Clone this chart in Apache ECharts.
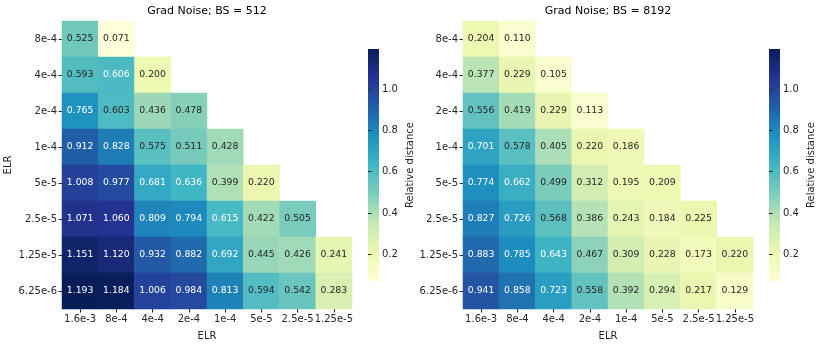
<!DOCTYPE html>
<html>
<head>
<meta charset="utf-8">
<script src="https://cdn.jsdelivr.net/npm/echarts@6/dist/echarts.min.js"></script>
<style>
  html, body { margin: 0; padding: 0; background: #fff; }
  #chart { width: 822px; height: 346px; }
</style>
</head>
<body>
<div id="chart"></div>
<script>
// ELR on both axes, columns left->right, rows top->bottom
var xLabels = ['1.6e-3', '8e-4', '4e-4', '2e-4', '1e-4', '5e-5', '2.5e-5', '1.25e-5'];
var yLabels = ['8e-4', '4e-4', '2e-4', '1e-4', '5e-5', '2.5e-5', '1.25e-5', '6.25e-6'];

// lower-triangle rows (row i has i+2 cells, last row has 8)
var bs512 = [
    [0.525, 0.071],
    [0.593, 0.606, 0.200],
    [0.765, 0.603, 0.436, 0.478],
    [0.912, 0.828, 0.575, 0.511, 0.428],
    [1.008, 0.977, 0.681, 0.636, 0.399, 0.220],
    [1.071, 1.060, 0.809, 0.794, 0.615, 0.422, 0.505],
    [1.151, 1.120, 0.932, 0.882, 0.692, 0.445, 0.426, 0.241],
    [1.193, 1.184, 1.006, 0.984, 0.813, 0.594, 0.542, 0.283]
];
var bs8192 = [
    [0.204, 0.110],
    [0.377, 0.229, 0.105],
    [0.556, 0.419, 0.229, 0.113],
    [0.701, 0.578, 0.405, 0.220, 0.186],
    [0.774, 0.662, 0.499, 0.312, 0.195, 0.209],
    [0.827, 0.726, 0.568, 0.386, 0.243, 0.184, 0.225],
    [0.883, 0.785, 0.643, 0.467, 0.309, 0.228, 0.173, 0.220],
    [0.941, 0.858, 0.723, 0.558, 0.392, 0.294, 0.217, 0.129]
];
var cbTicks = [0.2, 0.4, 0.6, 0.8, 1.0];
var vmin = 0.071, vmax = 1.193;

var ylgnbu = ['#ffffd9', '#edf8b1', '#c7e9b4', '#7fcdbb', '#41b6c4', '#1d91c0', '#225ea8', '#253494', '#081d58'];
var font = 'DejaVu Sans';
var ink = '#262626';

function toCells(rows) {
    var out = [];
    rows.forEach(function(row, y) {
        row.forEach(function(v, x) {
            out.push({
                value: [x, y, v],
                label: { color: v > 0.6045 ? '#ffffff' : ink }
            });
        });
    });
    return out;
}

var chart = echarts.init(document.getElementById('chart'));

var panels = [
    { title: 'Grad Noise; BS = 512', rows: bs512, left: 62, cbLeft: 368, yName: 'ELR' },
    { title: 'Grad Noise; BS = 8192', rows: bs8192, left: 463, cbLeft: 769, yName: '' }
];

var option = {
    animation: false,
    backgroundColor: '#fff',
    textStyle: { fontFamily: font },
    title: [], grid: [], xAxis: [], yAxis: [], visualMap: [], series: [], graphic: []
};

// colorbar gradient, bottom = vmin, top = vmax
var cbStops = ylgnbu.map(function(c, k) {
    return { offset: 1 - k / (ylgnbu.length - 1), color: c };
});

panels.forEach(function(p, i) {
    option.title.push({
        text: p.title, padding: 0,
        left: p.left + 145, top: 6, textAlign: 'center',
        textStyle: { fontFamily: font, fontSize: 11, fontWeight: 'normal', color: '#000' }
    });
    // heatmap grid
    option.grid.push({ left: p.left, top: 21, width: 290, height: 290 });
    option.xAxis.push({
        type: 'category', gridIndex: i, data: xLabels,
        name: 'ELR', nameLocation: 'middle', nameGap: 22,
        nameTextStyle: { fontFamily: font, fontSize: 10, color: ink },
        axisLine: { show: false },
        axisTick: { show: true, alignWithLabel: true, length: 3.5, lineStyle: { color: ink } },
        axisLabel: { fontFamily: font, fontSize: 10, color: ink, margin: 5, interval: 0 },
        splitLine: { show: false }
    });
    option.yAxis.push({
        type: 'category', gridIndex: i, data: yLabels, inverse: true,
        name: p.yName, nameLocation: 'middle', nameGap: 49, nameRotate: 90,
        nameTextStyle: { fontFamily: font, fontSize: 10, color: ink },
        axisLine: { show: false },
        axisTick: { show: true, alignWithLabel: true, length: 3.5, lineStyle: { color: ink } },
        axisLabel: { fontFamily: font, fontSize: 10, color: ink, margin: 5, interval: 0 },
        splitLine: { show: false }
    });
    option.series.push({
        type: 'heatmap', xAxisIndex: i, yAxisIndex: i,
        data: toCells(p.rows),
        label: {
            show: true, fontFamily: font, fontSize: 9.3,
            formatter: function(d) { return d.value[2].toFixed(3); }
        },
        itemStyle: { borderWidth: 0 },
        emphasis: { disabled: true }
    });
    option.visualMap.push({
        type: 'continuous', seriesIndex: i, dimension: 2, show: false,
        min: vmin, max: vmax,
        inRange: { color: ylgnbu }
    });
    option.graphic.push({
        type: 'rect', left: p.cbLeft, top: 49, silent: true,
        shape: { width: 11, height: 232 },
        style: { fill: new echarts.graphic.LinearGradient(0, 0, 0, 1, cbStops) }
    });
});

// colorbar tick axes, laid over the gradient bars
panels.forEach(function(p, i) {
    var gi = panels.length + i;
    option.grid.push({ left: p.cbLeft, top: 49, width: 11, height: 232 });
    option.xAxis.push({ type: 'value', gridIndex: gi, show: false });
    option.yAxis.push({
        type: 'value', gridIndex: gi, min: vmin, max: vmax, position: 'right',
        name: 'Relative distance', nameLocation: 'middle', nameGap: 26, nameRotate: 90,
        nameTextStyle: { fontFamily: font, fontSize: 10, color: ink },
        axisLine: { show: false },
        splitLine: { show: false },
        axisTick: { show: true, length: 3.5, customValues: cbTicks, lineStyle: { color: ink } },
        axisLabel: {
            fontFamily: font, fontSize: 10, color: ink, margin: 3, customValues: cbTicks,
            formatter: function(v) { return v.toFixed(1); }
        }
    });
});

chart.setOption(option);
</script>
</body>
</html>
